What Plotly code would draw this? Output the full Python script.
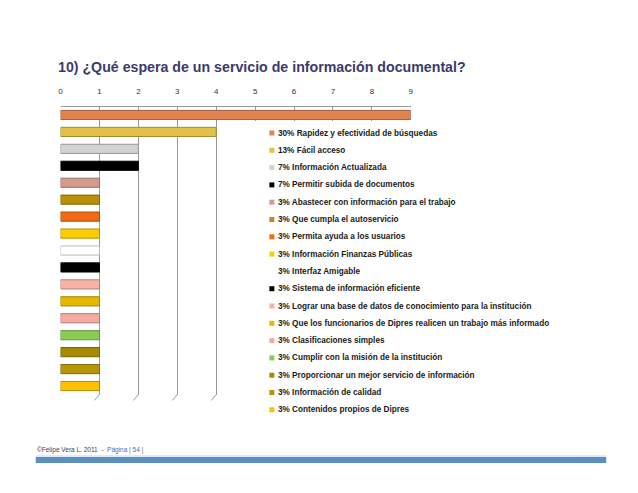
import plotly.graph_objects as go

# ---- data ----
categories = [
    "Rapidez y efectividad de búsquedas",
    "Fácil acceso",
    "Información Actualizada",
    "Permitir subida de documentos",
    "Abastecer con información para el trabajo",
    "Que cumpla el autoservicio",
    "Permita ayuda a los usuarios",
    "Información Finanzas Públicas",
    "Interfaz Amigable",
    "Sistema de información eficiente",
    "Lograr una base de datos de conocimiento para la institución",
    "Que los funcionarios de Dipres realicen un trabajo más informado",
    "Clasificaciones simples",
    "Cumplir con la misión de la institución",
    "Proporcionar un mejor servicio de información",
    "Información de calidad",
    "Contenidos propios de Dipres",
]
values = [9, 4, 2, 2, 1, 1, 1, 1, 1, 1, 1, 1, 1, 1, 1, 1, 1]
percents = ["30%", "13%", "7%", "7%", "3%", "3%", "3%", "3%", "3%", "3%",
            "3%", "3%", "3%", "3%", "3%", "3%", "3%"]
colors = ["#E1844F", "#E3C04A", "#D3D3D3", "#000000", "#D49A8C", "#B8900A",
          "#F26B12", "#FFCC00", "#FFFFFF", "#000000", "#F9B3A4", "#E6B800",
          "#F5AAA2", "#8BCB55", "#A88A00", "#B8960A", "#FFC000"]
tick_values = list(range(0, 10))
title_text = "10) ¿Qué espera de un servicio de información documental?"
footer_text = "©Felipe Vera L. 2011  -  <span style='color:#4a6fa5'>Página | 54 |</span>"

W, H = 638, 493
FONT = "Liberation Sans, Arial, sans-serif"


def darker(hex_color, f=0.72):
    h = hex_color.lstrip("#")
    r, g, b = (int(h[i:i + 2], 16) for i in (0, 2, 4))
    if (r, g, b) == (255, 255, 255):
        return "#BBBBBB"
    return "rgb({},{},{})".format(int(r * f), int(g * f), int(b * f))


def px(x):
    return x / W


def py(y):
    return 1 - y / H


# plot area (pixels)
x_left, x_right = 59, 412
y_top, y_bot = 106.5, 394.5

fig = go.Figure()

fig.add_trace(go.Bar(
    x=values, y=categories, orientation="h",
    marker=dict(color=colors, line=dict(color=[darker(c) for c in colors], width=1)),
    width=0.54,
    showlegend=False, hoverinfo="x+y",
))

shapes = []
annotations = []

# 3D floor diagonals at the bottom of each gridline
for v in tick_values:
    shapes.append(dict(type="line", xref="x", yref="y domain",
                       xsizemode="pixel", xanchor=v, x0=0, x1=-5,
                       ysizemode="pixel", yanchor=0, y0=0, y1=-6,
                       line=dict(color="#9a9a9a", width=1)))
# front-left edge
shapes.append(dict(type="line", xref="x", yref="y domain",
                   xsizemode="pixel", xanchor=0, x0=-4, x1=-4,
                   y0=-0.02, y1=0.985, line=dict(color="#9a9a9a", width=1)))
# top-left diagonal
shapes.append(dict(type="line", xref="x", yref="y domain",
                   xsizemode="pixel", xanchor=0, x0=0, x1=-4,
                   ysizemode="pixel", yanchor=1, y0=0, y1=-5,
                   line=dict(color="#9a9a9a", width=1)))

# legend box (white, hides the grid behind it)
leg_x0 = 272
leg_y0 = 133
leg_step = 17.3
shapes.append(dict(type="rect", xref="paper", yref="paper", layer="above",
                   x0=px(240), x1=px(600), y0=py(422), y1=py(121),
                   fillcolor="white", line=dict(width=0)))
for i, (p, c, col) in enumerate(zip(percents, categories, colors)):
    yc = leg_y0 + i * leg_step
    shapes.append(dict(type="rect", xref="paper", yref="paper", layer="above",
                       x0=px(leg_x0 - 2.5), x1=px(leg_x0 + 2.5),
                       y0=py(yc + 2.5), y1=py(yc - 2.5),
                       fillcolor=col, line=dict(width=0)))
    annotations.append(dict(text="<b>{} {}</b>".format(p, c), xref="paper", yref="paper",
                            x=px(leg_x0 + 4.5), y=py(yc), xanchor="left", yanchor="middle",
                            showarrow=False,
                            font=dict(family=FONT, size=8.2, color="#1a1a1a")))

# footer bar
shapes.append(dict(type="rect", xref="paper", yref="paper",
                   x0=px(34), x1=px(609), y0=py(463), y1=py(457),
                   fillcolor="#5B8FC0", line=dict(width=0)))
shapes.append(dict(type="line", xref="paper", yref="paper",
                   x0=px(34), x1=px(609), y0=py(456), y1=py(456),
                   line=dict(color="#BFD6EA", width=1)))

annotations += [
    dict(text="<b>" + title_text + "</b>", xref="paper", yref="paper",
         x=px(54), y=py(67), xanchor="left", yanchor="middle", showarrow=False,
         font=dict(family=FONT, size=14.2, color="#3B3B6B")),
    dict(text=footer_text, xref="paper", yref="paper",
         x=px(33), y=py(450), xanchor="left", yanchor="middle", showarrow=False,
         font=dict(family=FONT, size=6.5, color="#444444")),
]

fig.update_layout(
    width=W, height=H,
    margin=dict(l=0, r=0, t=0, b=0),
    paper_bgcolor="white", plot_bgcolor="white",
    xaxis=dict(domain=[px(x_left), px(x_right)], range=[0, 9], side="top",
               tickvals=tick_values, ticks="outside", ticklen=8,
               tickcolor="rgba(0,0,0,0)",
               tickfont=dict(family=FONT, size=8, color="#333333"),
               showgrid=True, gridcolor="#9a9a9a", gridwidth=1,
               showline=True, linecolor="#9a9a9a", linewidth=1,
               zeroline=False, fixedrange=True),
    yaxis=dict(domain=[py(y_bot), py(y_top)], range=[16.5, -0.5],
               type="category", categoryarray=categories,
               showticklabels=False, showgrid=False, zeroline=False, ticks="",
               fixedrange=True),
    shapes=shapes,
    annotations=annotations,
)

fig.write_html("out.html", config={"displayModeBar": False},
               post_script="document.body.style.margin='0';")
